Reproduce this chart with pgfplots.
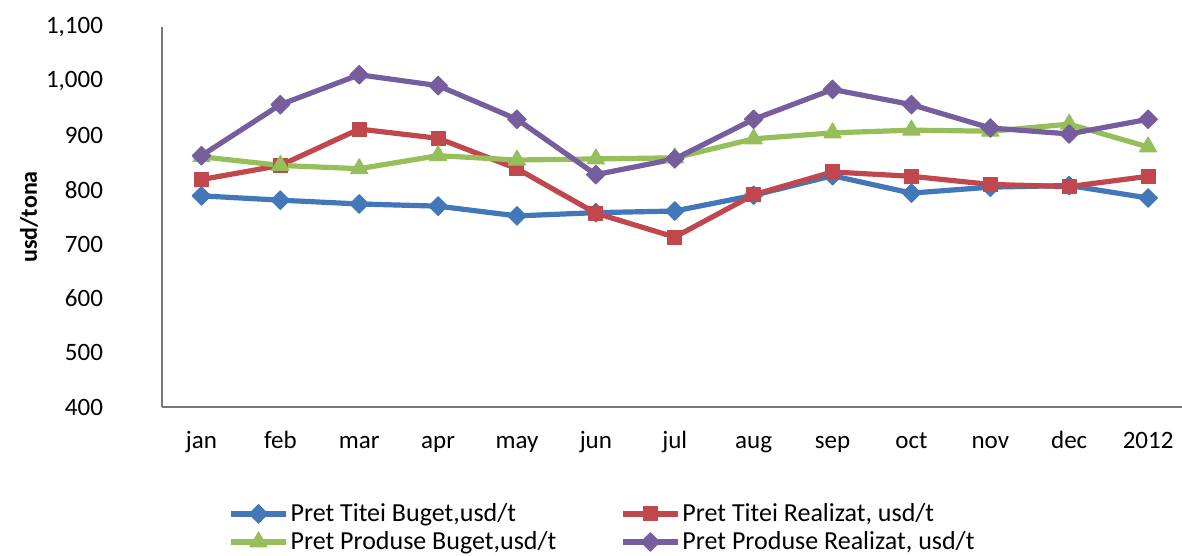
\documentclass[border=0pt]{standalone}
\usepackage{fontspec}
\setmainfont{Carlito}
\usepackage{pgfplots}
\pgfplotsset{compat=1.18}
\definecolor{tbuget}{RGB}{66,119,186}
\definecolor{treal}{RGB}{192,72,77}
\definecolor{pbuget}{RGB}{150,190,90}
\definecolor{preal}{RGB}{118,94,158}
\definecolor{axgray}{RGB}{120,120,120}

\begin{document}
\begin{tikzpicture}
\useasboundingbox (-81pt,-74.5pt) rectangle (510pt,203.5pt);
\begin{axis}[
    at={(0,0)}, anchor=south west,
    scale only axis, width=510pt, height=190pt,
    xmin=-0.5, xmax=12.43,
    ymin=400, ymax=1100,
    axis x line=bottom, axis y line=left,
    axis line style={-, axgray, line width=1pt},
    xtick={0,...,12},
    xticklabels={jan,feb,mar,apr,may,jun,jul,aug,sep,oct,nov,dec,2012},
    ytick={400,500,...,1100},
    major tick length=0pt,
    tick label style={font=\fontsize{12.5}{15}\selectfont, black},
    yticklabel style={anchor=east, xshift=-26pt},
    xticklabel style={anchor=north, text height=9pt, text depth=3pt, yshift=-8pt},
    /pgf/number format/1000 sep={,},
    /pgf/number format/assume math mode=true,
    ylabel={usd/tona},
    every axis y label/.style={at={(axis description cs:-0.1304,0.5)}, rotate=90, anchor=center,
        font=\bfseries\fontsize{12}{14}\selectfont},
    legend columns=2,
    legend cell align=left,
    legend image code/.code={\draw[mark repeat=2,mark phase=2] plot coordinates {(0pt,0pt) (13.75pt,0pt) (27.5pt,0pt)};},
    legend style={at={(axis description cs:0,0)}, anchor=north west, xshift=30pt, yshift=-45pt,
        draw=none, fill=none, font=\fontsize{13}{15}\selectfont,
        nodes={inner sep=1pt}, row sep=1.5pt,
        /tikz/every even column/.append style={column sep=31pt}},
    every axis plot/.append style={line width=2.6pt, line join=round},
]
\addplot[tbuget, mark=square*, mark size=3.3pt, mark options={rotate=45, fill=tbuget, line width=0.5pt}]
    coordinates {(0,789) (1,781) (2,774) (3,770) (4,752) (5,758) (6,761) (7,790) (8,826) (9,794) (10,805) (11,808) (12,785)};
\addlegendentry{Pret Titei Buget,usd/t}
\addplot[treal, mark=square*, mark size=3.5pt, mark options={fill=treal, line width=0.5pt}]
    coordinates {(0,819) (1,845) (2,912) (3,895) (4,839) (5,757) (6,713) (7,791) (8,833) (9,825) (10,810) (11,806) (12,825)};
\addlegendentry{Pret Titei Realizat, usd/t}
\addplot[pbuget, mark=triangle*, mark size=5pt, mark options={fill=pbuget, line width=0.5pt}]
    coordinates {(0,861) (1,845) (2,839) (3,863) (4,855) (5,857) (6,859) (7,894) (8,905) (9,910) (10,908) (11,921) (12,879)};
\addlegendentry{Pret Produse Buget,usd/t}
\addplot[preal, mark=square*, mark size=3.3pt, mark options={rotate=45, fill=preal, line width=0.5pt}]
    coordinates {(0,863) (1,957) (2,1012) (3,992) (4,930) (5,828) (6,857) (7,930) (8,985) (9,957) (10,914) (11,903) (12,930)};
\addlegendentry{Pret Produse Realizat, usd/t}
\end{axis}
\end{tikzpicture}
\end{document}
